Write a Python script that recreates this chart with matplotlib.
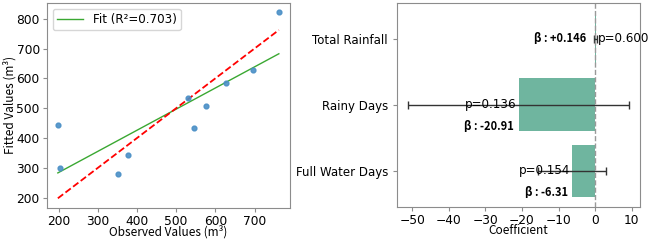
import numpy as np
import matplotlib.pyplot as plt

# observed vs fitted values
observed = [198, 204, 351, 376, 529, 545, 575, 627, 697, 762]
fitted = [443, 301, 278, 344, 533, 434, 507, 583, 629, 821]
r2 = 0.703

# regression coefficients
variables = ["Total Rainfall", "Rainy Days", "Full Water Days"]
coefs = [0.146, -20.91, -6.31]
errors = [0.35, 30.2, 9.35]
pvalues = [0.600, 0.136, 0.154]

label_font = ["Noto Sans CJK KR", "DejaVu Sans"]
frame_color = "#8c8c8c"

fig = plt.figure(figsize=(6.5, 2.4), dpi=100)
ax1 = fig.add_axes([0.072, 0.135, 0.374, 0.852])
ax2 = fig.add_axes([0.611, 0.139, 0.374, 0.848])

x = np.array(observed, dtype=float)
y = np.array(fitted, dtype=float)

ax1.scatter(x, y, s=12, color="#4a8fc6", alpha=0.9, zorder=3)
p = np.polyfit(x, y, 1)
xs = np.array([x.min(), x.max()])
ax1.plot(xs, np.polyval(p, xs), color="#3aa832", lw=1, label="Fit (R\u00b2={:.3f})".format(r2))
ax1.plot(xs, xs, color="red", ls="--", lw=1.3)
ax1.set_xticks([200, 300, 400, 500, 600, 700])
ax1.set_yticks([200, 300, 400, 500, 600, 700, 800])
ax1.tick_params(labelsize=8.8, length=3, color=frame_color, pad=2)
ax1.set_xlabel("Observed Values (m\u00b3)", family=label_font, fontsize=8.5, labelpad=-2)
ax1.set_ylabel("Fitted Values (m\u00b3)", family=label_font, fontsize=8.5, labelpad=0)
ax1.legend(loc="upper left", fontsize=8.6, handlelength=2.2, borderpad=0.35)

pos = np.arange(len(variables))
ax2.barh(pos, coefs, height=0.8, color="#6fb59f", xerr=errors,
         error_kw=dict(ecolor="#333333", elinewidth=1, capsize=3, capthick=1))
ax2.axvline(0, color="#999999", ls="--", lw=1)
ax2.set_yticks(pos)
ax2.set_yticklabels(variables, fontsize=8.5)
ax2.invert_yaxis()
ax2.set_xticks([-50, -40, -30, -20, -10, 0, 10])
ax2.tick_params(axis="x", labelsize=8.8, pad=2)
ax2.tick_params(length=3, color=frame_color)
ax2.set_xlabel("Coefficient", family=label_font, fontsize=8.5, labelpad=-2)

for i, (c, e, pv) in enumerate(zip(coefs, errors, pvalues)):
    if c > 0:
        ax2.text(c + 0.5, i, "p={:.3f}".format(pv), ha="left", va="center", fontsize=8.6)
        ax2.text(c - 2.5, i, "\u03b2 : {:+.3f}".format(c), ha="right", va="center",
                 family=label_font, fontsize=8, fontweight="bold")
    else:
        ax2.text(c - 0.5, i, "p={:.3f}".format(pv), ha="right", va="center", fontsize=8.6)
        ax2.text(c - 1.2, i + 0.32, "\u03b2 : {:.2f}".format(c), ha="right", va="center",
                 family=label_font, fontsize=8, fontweight="bold")

for ax in (ax1, ax2):
    for s in ax.spines.values():
        s.set_color(frame_color)

fig.savefig("out.png", dpi=100)
